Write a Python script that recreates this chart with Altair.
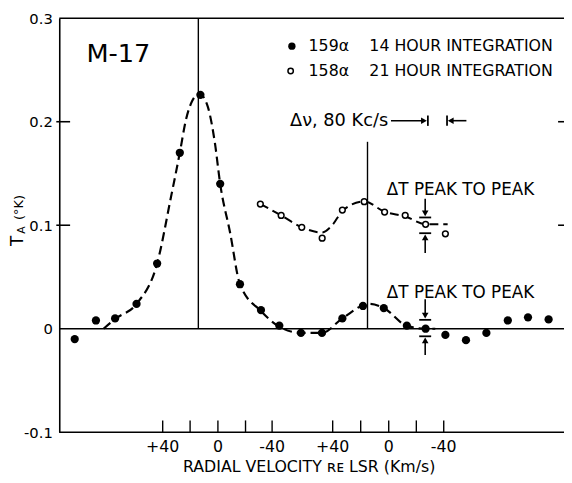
import altair as alt
import pandas as pd

# ---- data (x = spectrometer channel, y = antenna temperature) ----
ch_159 = [0, 1.03, 1.96, 3.0, 4.0, 5.1, 6.1, 7.06, 8.02, 9.04, 9.93, 10.98,
          12.0, 12.99, 13.99, 15.0, 16.12, 17.03, 17.99, 18.99, 19.98, 21.02, 22.0, 23.0]
ta_159 = [-0.010, 0.008, 0.010, 0.024, 0.063, 0.170, 0.226, 0.140, 0.043, 0.018, 0.003, -0.004,
          -0.004, 0.010, 0.022, 0.020, 0.003, 0.000, -0.006, -0.011, -0.004, 0.008, 0.011, 0.009]

ch_158 = [9.01, 10.02, 11.02, 12.01, 12.99, 14.05, 15.04, 16.04, 17.03, 17.99]
ta_158 = [0.1205, 0.1095, 0.098, 0.0875, 0.1147, 0.1227, 0.1127, 0.1096, 0.1009, 0.0917]

# dashed fitted curves as drawn in the figure
fit159_ch = [1.4, 2.0, 3.0, 4.0, 4.67, 5.1, 5.4, 5.7, 6.05, 6.45, 6.8, 7.06, 7.54, 8.02,
             9.04, 9.93, 10.98, 12.0, 12.99, 14.3, 15.0, 16.1, 17.03, 17.5]
fit159_ta = [0.0, 0.010, 0.024, 0.063, 0.127, 0.170, 0.202, 0.220, 0.227, 0.215, 0.180, 0.140,
             0.093, 0.043, 0.017, 0.002, -0.004, -0.004, 0.010, 0.024, 0.020, 0.003, 0.0, 0.0]
fit158_ch = [9.01, 10.02, 11.02, 12.0, 12.5, 13.0, 14.05, 15.04, 16.04, 17.03, 18.1]
fit158_ta = [0.1205, 0.1095, 0.098, 0.093, 0.100, 0.114, 0.123, 0.113, 0.1085, 0.101, 0.101]

# velocity axis ticks (two velocity scales, one under each line)
vel_tick_ch = [4.27, 5.6, 6.95, 8.29, 9.58, 12.52, 13.88, 15.24, 16.58, 17.91]
vel_label_ch = [4.27, 6.95, 9.58, 12.52, 15.24, 17.91]
vel_labels = ["+40", "0", "-40", "+40", "0", "-40"]

y_ticks = [-0.1, 0, 0.1, 0.2, 0.3]

W, H = 506, 420
FONT = "DejaVu Sans"
xs = alt.Scale(domain=[-0.75, 23.46], nice=False, zero=False)
ys = alt.Scale(domain=[-0.1, 0.3], nice=False, zero=False)

XTITLE = "RADIAL VELOCITY ʀᴇ LSR (Km/s)"
AX = alt.Axis(
    title=XTITLE, labels=False, ticks=False, grid=False,
    domain=False, titleFont=FONT, titleFontSize=16, titleFontWeight="normal",
    titleColor="black", titlePadding=27)
AY = alt.Axis(
    title=None, values=y_ticks, grid=False, tickSize=0, labelPadding=7,
    labelExpr="datum.value == 0 ? '0' : (datum.value < 0 ? '-' : '') + format(abs(datum.value), '.1f')",
    labelFont=FONT, labelFontSize=15, labelColor="black", domainColor="black",
    domainWidth=1.6)


def X(f="ch"):
    return alt.X(f"{f}:Q", scale=xs, axis=AX, title=XTITLE)


def Y(f="v"):
    return alt.Y(f"{f}:Q", scale=ys, axis=AY, title=None)


pts159 = pd.DataFrame({"ch": ch_159, "v": ta_159})
pts158 = pd.DataFrame({"ch": ch_158, "v": ta_158})
fit159 = pd.DataFrame({"ch": fit159_ch, "v": fit159_ta})
fit158 = pd.DataFrame({"ch": fit158_ch, "v": fit158_ta})

hlines = alt.Chart(pd.DataFrame({"v": [0.3, 0.0, -0.1]})).mark_rule(
    color="black", strokeWidth=1.6).encode(y=Y(), x=alt.value(0), x2=alt.value(W + 6))

yt = alt.Chart(pd.DataFrame({"v": [0.1, 0.2]}))
left_ticks = yt.mark_rule(color="black", strokeWidth=1.6).encode(
    y=Y(), x=alt.value(-3), x2=alt.value(11))
right_ticks = yt.mark_rule(color="black", strokeWidth=1.6).encode(
    y=Y(), x=alt.value(W), x2=alt.value(W + 6))

xt = alt.Chart(pd.DataFrame({"ch": vel_tick_ch})).mark_rule(color="black", strokeWidth=1.4).encode(
    x=X(), y=alt.value(H), y2=alt.value(H - 12))
xl = alt.Chart(pd.DataFrame({"ch": vel_label_ch, "t": vel_labels})).mark_text(
    font=FONT, fontSize=16, color="black", baseline="middle").encode(
    x=X(), y=alt.value(H + 15), text="t:N")

curve159 = alt.Chart(fit159).mark_line(
    color="black", strokeWidth=2.2, strokeDash=[9, 5], interpolate="monotone").encode(x=X(), y=Y())
curve158 = alt.Chart(fit158).mark_line(
    color="black", strokeWidth=2.0, strokeDash=[9, 5], interpolate="monotone").encode(x=X(), y=Y())

filled = alt.Chart(pts159).mark_point(filled=True, color="black", size=70, opacity=1).encode(
    x=X(), y=Y())
opened = alt.Chart(pts158).mark_point(shape="circle", fill="white", stroke="black",
                                      strokeWidth=1.5, size=34, opacity=1, fillOpacity=1).encode(
    x=X(), y=Y())

# line segments: vertical markers, arrow stems and bars
seg = pd.DataFrame({
    "ch":  [6.0, 14.21, 15.35, 17.14, 18.07, 18.2, 17.01, 16.72, 16.72, 17.01, 17.01, 16.72, 16.72, 17.01],
    "ch2": [6.0, 14.21, 16.9, 17.14, 18.07, 19.01, 17.01, 17.30, 17.30, 17.01, 17.01, 17.30, 17.30, 17.01],
    "v":   [0.3, 0.1806, 0.201, 0.196, 0.196, 0.201, 0.1257, 0.1075, 0.0923, 0.088, 0.0286, 0.0086, -0.0073, -0.012],
    "v2":  [0.0, 0.0, 0.201, 0.206, 0.206, 0.201, 0.112, 0.1075, 0.0923, 0.0732, 0.013, 0.0086, -0.0073, -0.0254],
    "w":   [1.4, 1.4, 1.6, 1.8, 1.8, 1.6, 1.6, 1.8, 1.8, 1.6, 1.6, 1.8, 1.8, 1.6],
})
segs = alt.Chart(seg).mark_rule(color="black").encode(
    x=X(), x2="ch2:Q", y=Y(), y2="v2:Q",
    strokeWidth=alt.StrokeWidth("w:Q", scale=None))

tri = pd.DataFrame({
    "ch": [16.95, 18.25, 17.01, 17.01, 17.01, 17.01],
    "v": [0.201, 0.201, 0.1115, 0.0883, 0.0126, -0.0113],
    "s": ["triangle-right", "triangle-left", "triangle-down", "triangle-up", "triangle-down", "triangle-up"],
})
heads = alt.Chart(tri).mark_point(filled=True, color="black", size=45, opacity=1).encode(
    x=X(), y=Y(), shape=alt.Shape("s:N", scale=None))

# legend
leg_pts = alt.Chart(pd.DataFrame({"ch": [10.54], "v": [0.273]})).mark_point(
    filled=True, color="black", size=55, opacity=1).encode(x=X(), y=Y())
leg_open = alt.Chart(pd.DataFrame({"ch": [10.48], "v": [0.249]})).mark_point(
    shape="circle", fill="white", stroke="black", strokeWidth=1.5, size=30, opacity=1).encode(x=X(), y=Y())

txt_left = pd.DataFrame({
    "ch": [11.35, 11.35, 14.3, 14.3],
    "v": [0.273, 0.249, 0.273, 0.249],
    "t": ["159α", "158α", "14 HOUR INTEGRATION", "21 HOUR INTEGRATION"],
})
legend_txt = alt.Chart(txt_left).mark_text(
    font=FONT, fontSize=16, color="black", align="left", baseline="middle").encode(
    x=X(), y=Y(), text="t:N")

ann = pd.DataFrame({
    "ch": [10.45, 15.15, 15.15],
    "v": [0.201, 0.1336, 0.0348],
    "t": ["Δν, 80 Kc/s", "ΔT PEAK TO PEAK", "ΔT PEAK TO PEAK"],
    "s": [18, 17, 17],
})
ann_txt = alt.Chart(ann).mark_text(
    font=FONT, color="black", align="left", baseline="middle").encode(
    x=X(), y=Y(), text="t:N", size=alt.Size("s:Q", scale=None))

m17 = alt.Chart(pd.DataFrame({"ch": [2.12], "v": [0.265], "t": ["M-17"]})).mark_text(
    font=FONT, fontSize=26, color="black", align="center", baseline="middle").encode(
    x=X(), y=Y(), text="t:N")

# y-axis title  T_A (°K), rotated
yt_main = alt.Chart(pd.DataFrame({"t": ["T"]})).mark_text(
    font=FONT, fontSize=17, angle=270, color="black", baseline="middle", align="center").encode(
    text="t:N", x=alt.value(-42), y=alt.value(226))
yt_sub = alt.Chart(pd.DataFrame({"t": ["A"]})).mark_text(
    font=FONT, fontSize=11, angle=270, color="black", baseline="middle", align="center").encode(
    text="t:N", x=alt.value(-38), y=alt.value(215))
yt_unit = alt.Chart(pd.DataFrame({"t": ["(°K)"]})).mark_text(
    font=FONT, fontSize=13, angle=270, color="black", baseline="middle", align="center").encode(
    text="t:N", x=alt.value(-41), y=alt.value(192))

chart = alt.layer(
    hlines, left_ticks, right_ticks, xt, xl, curve159, curve158, segs, heads,
    filled, opened, leg_pts, leg_open, legend_txt, ann_txt, m17, yt_main, yt_sub, yt_unit,
).properties(
    width=W, height=H,
    autosize=alt.AutoSizeParams(type="none"),
    padding={"left": 52, "top": 7, "right": 6, "bottom": 40},
    background="white",
).configure_view(stroke=None)

chart.save("out.html", embed_options={"renderer": "svg", "actions": False})
